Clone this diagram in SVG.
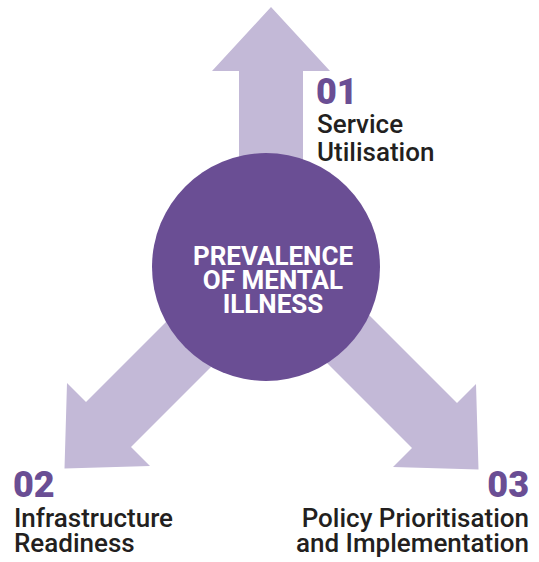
<svg xmlns="http://www.w3.org/2000/svg" width="539" height="562" viewBox="0 0 539 562">
  <style>
    .arrow { fill: #c3b9d7; }
    .hub { fill: #6a4e94; }
    .hub-label { font-family: Roboto, "Liberation Sans", sans-serif; font-weight: 700; font-size: 26px; fill: #ffffff; text-anchor: middle; }
    .num { font-family: Roboto, "Liberation Sans", sans-serif; font-weight: 900; font-size: 36px; fill: #6a4e94; }
    .label { font-family: Roboto, "Liberation Sans", sans-serif; font-weight: 500; font-size: 26px; fill: #231f20; }
    .end { text-anchor: end; }
  </style>

  <!-- connectors: three broad arrows radiating from the hub -->
  <g id="connectors">
    <polygon class="arrow" points="271,7 330,71 303,71 303,200 239,200 239,71 212,71"/>
    <polygon class="arrow" points="64.5,468.5 67,383 86,402 236,252 281,297 131,447 150,466"/>
    <polygon class="arrow" points="478.5,469.5 393,467 412,448 306,342 351,297 457,403 476,384"/>
  </g>

  <g id="hub">
    <circle class="hub" cx="266" cy="267" r="114"/>
    <text class="hub-label" x="273" y="265">PREVALENCE</text>
    <text class="hub-label" x="273" y="289">OF MENTAL</text>
    <text class="hub-label" x="273" y="313">ILLNESS</text>
  </g>

  <g id="node-01">
    <text class="num" x="316" y="104">01</text>
    <text class="label" x="317" y="133">Service</text>
    <text class="label" x="317" y="161">Utilisation</text>
  </g>

  <g id="node-02">
    <text class="num" x="13" y="497">02</text>
    <text class="label" x="14" y="527">Infrastructure</text>
    <text class="label" x="14" y="552">Readiness</text>
  </g>

  <g id="node-03">
    <text class="num end" x="529" y="497">03</text>
    <text class="label end" x="529" y="527">Policy Prioritisation</text>
    <text class="label end" x="529" y="552">and Implementation</text>
  </g>
</svg>
